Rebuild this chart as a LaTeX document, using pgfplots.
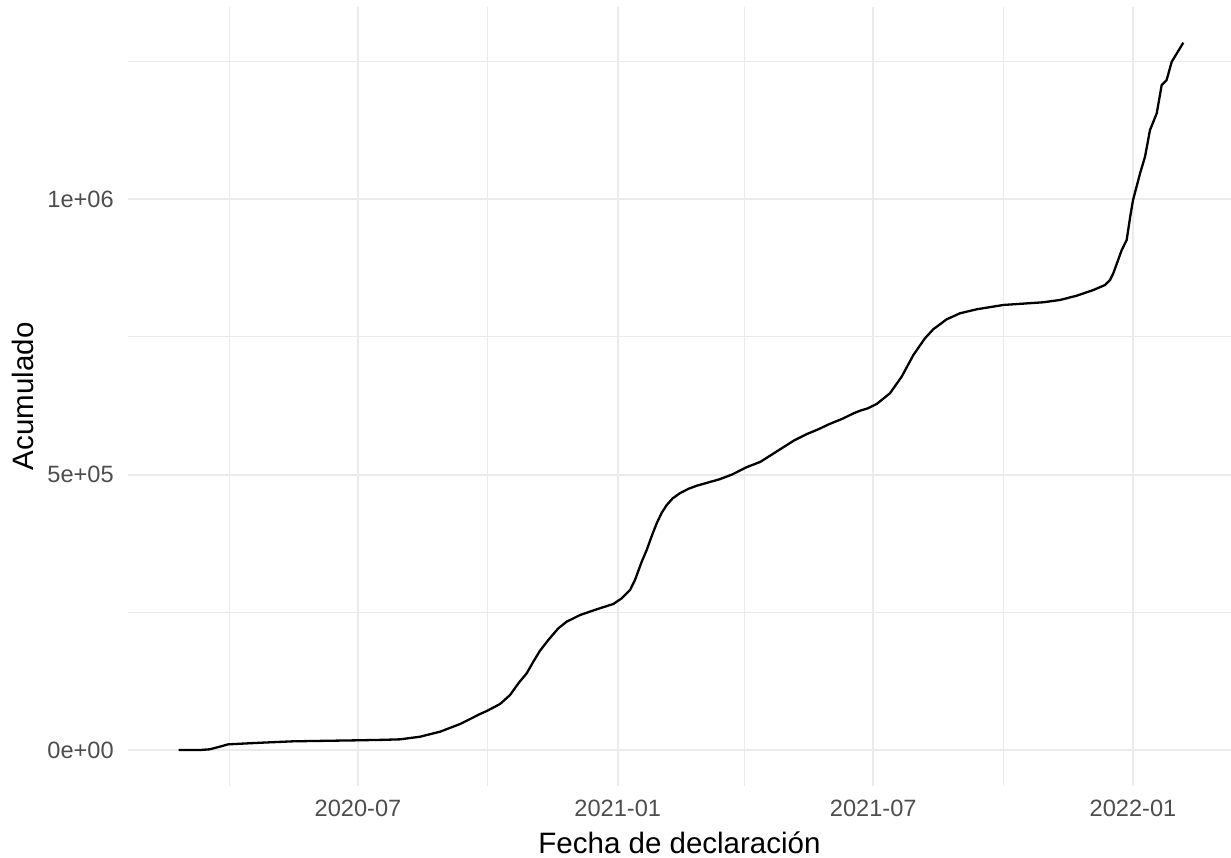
\documentclass[border=0pt]{standalone}
\usepackage{fontspec}
\setmainfont{Liberation Sans}
\usepackage{pgfplots}
\pgfplotsset{compat=1.18}
\definecolor{gridgray}{HTML}{EBEBEB}
\definecolor{tickgray}{HTML}{4D4D4D}

% x = days since 2020-01-01, y = cumulative count
\pgfplotstableread{
d      v
55     0
70     0
77     1300
84     6000
90     10300
112.6  13200
136    15800
181    17600
200    18500
211.8  19400
225.9  24100
240.1  33200
254.3  47200
268.4  65300
273.6  71300
282.6  83500
289.7  99800
295.6  121000
301.5  139200
306.2  160300
310.9  180200
316.8  199700
323.9  220900
329.8  232900
339.3  245000
351.1  255400
362.8  265000
368.8  275300
374.7  290400
378.2  308600
383    342000
386.5  363000
390    388000
393.6  411500
397    430000
400.7  444700
405    457000
410    466000
416    474000
422    479700
438    491300
447    500000
457    513000
467    523000
475    536000
483    549000
491    562000
500    573500
508    582000
516    591700
525    601000
533    611000
537.6  615800
543    620000
549.4  628000
558.8  647400
567.1  677500
575.4  716900
583.6  747200
589.5  763600
599    781700
608.4  792600
620.3  799900
639.1  807700
667.4  812600
679.3  816800
691.1  824500
702.9  834900
711.2  844000
714.7  853000
717    865000
723    907500
726.5  925600
729    968000
731    998000
736    1046700
739.5  1076800
743    1125000
747.8  1155600
751.3  1207000
754.8  1216000
758.4  1249000
766.6  1283700
}\acum

\begin{document}
\begin{tikzpicture}
\begin{axis}[
    scale only axis,
    width=551.5pt, height=389.25pt,
    xmin=19.07, xmax=800.4,
    ymin=-64400, ymax=1348500,
    axis line style={draw=none},
    tick style={draw=none},
    major tick length=0pt, minor tick length=0pt,
    grid=both,
    major grid style={color=gridgray, line width=1pt},
    minor grid style={color=gridgray, line width=0.5pt},
    xtick={182,366,547,731},
    xticklabels={2020-07,2021-01,2021-07,2022-01},
    minor xtick={91,274,456,639},
    ytick={0,500000,1000000},
    yticklabels={0e+00,5e+05,1e+06},
    minor ytick={250000,750000,1250000},
    scaled y ticks=false,
    ticklabel style={font=\fontsize{11.8}{13}\selectfont, text=tickgray},
    xticklabel shift=3.5pt,
    yticklabel shift=3.6pt,
    xlabel={Fecha de declaración},
    ylabel={Acumulado},
    xlabel style={font=\fontsize{14.75}{17}\selectfont, at={(axis description cs:0.5,-0.087)}, anchor=base},
    ylabel style={font=\fontsize{14.75}{17}\selectfont, at={(axis description cs:-0.0859,0.5)}, anchor=base, rotate=0},
]
\addplot[black, line width=1.15pt, line join=round] table[x=d, y=v] {\acum};
\end{axis}
\pgfresetboundingbox
\path[use as bounding box] ([xshift=-64pt, yshift=-36pt]current axis.south west) rectangle ([yshift=3.5pt]current axis.north east);
\end{tikzpicture}
\end{document}
